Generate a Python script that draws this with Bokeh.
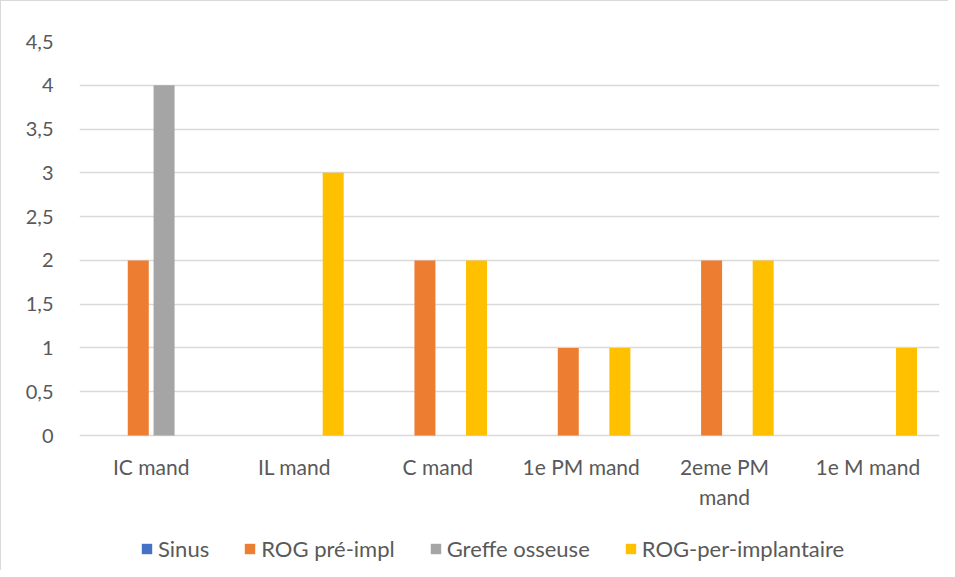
from bokeh.plotting import figure
from bokeh.models import ColumnDataSource, Legend, LegendItem, FixedTicker, Range1d
from bokeh.embed import file_html
from bokeh.resources import INLINE
from bokeh.core.properties import value

categories = ["IC mand", "IL mand", "C mand", "1e PM mand", "2eme PM\nmand", "1e M mand"]
series_names = ["Sinus", "ROG pré-impl", "Greffe osseuse", "ROG-per-implantaire"]
sinus = [0, 0, 0, 0, 0, 0]
rog_pre_impl = [2, 0, 2, 1, 2, 0]
greffe_osseuse = [4, 0, 0, 0, 0, 0]
rog_per_implantaire = [0, 3, 2, 1, 2, 1]
series_values = [sinus, rog_pre_impl, greffe_osseuse, rog_per_implantaire]
colors = ["#4472C4", "#ED7D31", "#A5A5A5", "#FFC000"]
y_ticks = [0, 0.5, 1, 1.5, 2, 2.5, 3, 3.5, 4, 4.5]
y_tick_labels = ["0", "0,5", "1", "1,5", "2", "2,5", "3", "3,5", "4", "4,5"]

FONT = "Lato"
TXT = "#595959"
GRID = "#d9d9d9"

# frame spans the value area plus the label/legend strip below it
FRAME_H = 529
PX_PER_UNIT = 394 / 4.5
y_min = 4.5 - FRAME_H / PX_PER_UNIT

p = figure(frame_width=860, frame_height=FRAME_H, x_range=Range1d(0, len(categories)),
           y_range=Range1d(y_min, 4.5), output_backend="svg", toolbar_location=None,
           min_border_left=78, min_border_right=9, min_border_top=40,
           min_border_bottom=0)
p.styles = {"border-left": "1px solid #d9d9d9", "border-top": "1px solid #d9d9d9"}
p.outline_line_color = None
p.background_fill_color = "white"
p.border_fill_color = "white"

offsets = [-0.27, -0.09, 0.09, 0.27]
bar_w = 0.1465
renderers = []
for name, vals, col, off in zip(series_names, series_values, colors, offsets):
    src = ColumnDataSource(dict(x=[i + 0.5 + off for i in range(len(categories))], top=vals))
    r = p.vbar(x="x", top="top", width=bar_w, bottom=0, source=src,
               fill_color=col, line_color=None)
    renderers.append(r)

# category labels under the baseline
lab_src = ColumnDataSource(dict(x=[i + 0.5 for i in range(len(categories))],
                                y=[-18 / PX_PER_UNIT] * len(categories),
                                text=categories))
p.text(x="x", y="y", text="text", source=lab_src, text_align="center",
       text_baseline="top", text_font=value(FONT), text_font_size="21px",
       text_color=TXT, text_line_height=1.2)

p.xaxis.visible = False

p.yaxis.ticker = FixedTicker(ticks=y_ticks)
p.yaxis.major_label_overrides = {t: l for t, l in zip(y_ticks, y_tick_labels)}
p.yaxis.axis_line_color = None
p.yaxis.major_tick_line_color = None
p.yaxis.minor_tick_line_color = None
p.yaxis.major_label_text_font = FONT
p.yaxis.major_label_text_font_size = "20px"
p.yaxis.major_label_text_color = TXT
p.yaxis.major_label_standoff = 20

p.xgrid.grid_line_color = None
p.ygrid.grid_line_color = GRID
p.ygrid.grid_line_width = 1.5

legend = Legend(items=[LegendItem(label=n, renderers=[r]) for n, r in zip(series_names, renderers)],
                orientation="horizontal", location=(61, 8),
                glyph_width=13, glyph_height=13, label_standoff=5, spacing=34,
                padding=0, margin=0, border_line_color=None, background_fill_alpha=0,
                label_text_font=FONT, label_text_font_size="22px", label_text_color=TXT)
p.add_layout(legend)

open("out.html", "w").write(file_html(p, INLINE))
